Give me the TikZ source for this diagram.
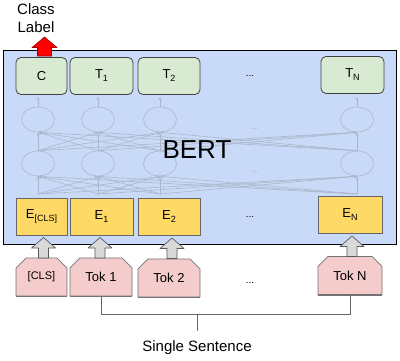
\documentclass[tikz,border=0pt]{standalone}
\usepackage{fontspec}
\setmainfont{Liberation Sans}
\usetikzlibrary{shapes.geometric,shapes.misc,arrows.meta,calc}
\definecolor{bertblue}{HTML}{C9DAF8}
\definecolor{outgreen}{HTML}{D9EAD3}
\definecolor{embyellow}{HTML}{FFD966}
\definecolor{tokpink}{HTML}{F4CCCC}
\definecolor{arrgray}{HTML}{D9D9D9}
\definecolor{netgray}{HTML}{ABB6CB}
\newcommand\sbx[1]{\raisebox{-3pt}{\fontsize{9}{9}\selectfont #1}}
\begin{document}
\begin{tikzpicture}[x=1pt,y=-1pt,
  bertbox/.style={draw=black, line width=1.6pt, fill=bertblue, minimum width=393pt, minimum height=194pt, inner sep=0pt},
  outbox/.style={draw=black!75, line width=0.8pt, fill=outgreen, rounded corners=5pt, minimum width=#1, minimum height=37pt, inner sep=0pt, font=\fontsize{13}{15}\selectfont},
  embbox/.style={draw=black!60, line width=0.7pt, fill=embyellow, minimum width=#1, minimum height=37pt, inner sep=0pt, font=\fontsize{13}{15}\selectfont},
  tokbox/.style={chamfered rectangle, chamfered rectangle corners={north west,north east}, chamfered rectangle xsep=5pt, chamfered rectangle ysep=5pt, draw=black!55, line width=0.7pt, fill=tokpink, minimum width=#1, minimum height=38pt, inner sep=0pt, font=\fontsize{13}{15}\selectfont},
  neuron/.style={ellipse, draw=netgray, line width=0.6pt, minimum width=33pt, minimum height=25pt, inner sep=0pt},
  netline/.style={draw=netgray, line width=0.6pt, -{Stealth[length=3.5pt,width=3pt]}},
  grayarrow/.style={draw=black!65, line width=0.7pt, fill=arrgray, line join=round},
  redarrow/.style={draw=red!60!black, line width=0.6pt, fill=red, line join=round},
  bracket/.style={draw=black!60, line width=0.9pt},
  lbl/.style={font=\fontsize{15}{18}\selectfont, align=center, inner sep=0pt}
]
\useasboundingbox (0,0) rectangle (400,360);

% main BERT box
\node[bertbox] (bert) at (200,147.5) {};

% network
\foreach \i/\x in {1/38,2/98,3/160,4/357}{
  \node[neuron] (u\i) at (\x,119.5) {};
  \node[neuron] (l\i) at (\x,163.5) {};
  \coordinate (b\i) at (\x,194);
  \coordinate (t\i) at (\x,97);
}
\foreach \i in {1,...,4}{
  \foreach \j in {1,...,4}{
    \draw[netline] (l\i.north) -- (u\j.south);
    \draw[netline] (b\i) -- (l\j.south);
  }
  \draw[netline] (u\i.north) -- (t\i);
}
\node[text=netgray, inner sep=0pt] (ndots1) at (255,129) {...};
\node[text=netgray, inner sep=0pt] (ndots2) at (255,172) {...};

\node[font=\fontsize{26}{28}\selectfont, inner sep=0pt] (berttext) at (197,150) {BERT};

% output row
\node[outbox=51pt] (oc) at (41.5,76) {C};
\node[outbox=63pt] (o1) at (101.5,76) {T\sbx{1}};
\node[outbox=62pt] (o2) at (169,76) {T\sbx{2}};
\node[outbox=63pt] (on) at (352.5,75) {T\sbx{N}};
\node[inner sep=0pt] (odots) at (250,76) {...};

% embedding row
\node[embbox=51pt] (ecls) at (41.5,216.5) {E\sbx{[CLS]}};
\node[embbox=63pt] (e1) at (101.5,216.5) {E\sbx{1}};
\node[embbox=62pt] (e2) at (169,216.5) {E\sbx{2}};
\node[embbox=64pt] (en) at (350,215) {E\sbx{N}};
\node[inner sep=0pt] (edots) at (250,217) {...};

% tokens
\node[tokbox=51pt] (tcls) at (41.5,277) {\fontsize{11}{13}\selectfont [CLS]};
\node[tokbox=62pt] (tk1) at (101,277) {Tok 1};
\node[tokbox=62pt] (tk2) at (169,278) {Tok 2};
\node[tokbox=64pt] (tkn) at (350,275.5) {Tok N};
\node[inner sep=0pt] (tdots) at (250,283) {...};
\foreach \n in {tcls,tk1,tk2,tkn}{
  \draw[black!55, line width=1.3pt] (\n.south west) -- (\n.south east);
}

% gray block arrows (bottom-centre anchors)
\coordinate (acls) at (43.5,258);
\coordinate (a1) at (100,258);
\coordinate (a2) at (172,258.5);
\coordinate (an) at (352,256.5);
\foreach \a in {acls,a1,a2,an}{
  \draw[grayarrow, shift={(\a)}] (-5,0) -- (-5,-10) -- (-12,-10) -- (0,-20.5) -- (12,-10) -- (5,-10) -- (5,0) -- cycle;
}

% class label
\coordinate (ared) at (44.5,56);
\draw[redarrow, shift={(ared)}] (-7,0) -- (-7,-8.5) -- (-12.5,-8.5) -- (0,-19) -- (12.5,-8.5) -- (7,-8.5) -- (7,0) -- cycle;
\node[lbl] (cl) at (36,18.5) {Class\\Label};

% bracket
\coordinate (br1) at (101,314);
\coordinate (brn) at (350,314);
\coordinate (brm) at (197,314);
\coordinate (brd) at (197,331);
\draw[bracket] (tk1.south) -- (br1) -- (brn) -- (tkn.south);
\draw[bracket] (brm) -- (brd);
\node[lbl] (ss) at (197,348) {Single Sentence};
\end{tikzpicture}
\end{document}
